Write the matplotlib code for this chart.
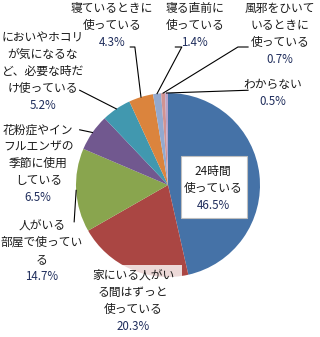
import numpy as np
import matplotlib
matplotlib.use("Agg")
import matplotlib.pyplot as plt
from matplotlib.patches import Rectangle

plt.rcParams['font.family'] = ['Noto Sans CJK JP', 'DejaVu Sans']

# データ
labels = [
    ["24時間", "使っている"],
    ["家にいる人がい", "る間はずっと", "使っている"],
    ["人がいる", "部屋で使ってい", "る"],
    ["花粉症やイン", "フルエンザの", "季節に使用", "している"],
    ["においやホコリ", "が気になるな", "ど、必要な時だ", "け使っている"],
    ["寝ているときに", "使っている"],
    ["寝る直前に", "使っている"],
    ["風邪をひいて", "いるときに", "使っている"],
    ["わからない"],
]
values = [46.5, 20.3, 14.7, 6.5, 5.2, 4.3, 1.4, 0.7, 0.5]
colors = ['#4572A7', '#AA4643', '#89A54E', '#71588F', '#4198AF',
          '#DB843D', '#93A9CF', '#D19392', '#B9A3C9']

# ラベル配置 (中心x, 1行目y) データ座標
lab_pos = [(0.49, 0.15), (-0.38, -0.98), (-1.37, -0.44), (-1.41, 0.60),
           (-1.36, 1.60), (-0.61, 1.92), (0.29, 1.92), (1.22, 1.92),
           (1.14, 1.09)]
# 引き出し線の始点 (None = 線なし)
lead_start = [None, None, (-1.02, -0.40), (-0.96, 0.60), (-0.96, 1.03),
              [(-0.41, 1.50), (-0.36, 1.50)], [(0.08, 1.50), (0.15, 1.50)],
              [(0.87, 1.50), (0.76, 1.50)], [(0.87, 1.03)]]

fig = plt.figure(figsize=(3.2, 3.37), dpi=100)
ax = fig.add_axes([(168 - 92) / 320, 1 - (185 + 92) / 337, 184 / 320, 184 / 337])

wedges, _ = ax.pie(values, colors=colors, startangle=90, counterclock=False,
                   radius=1.0, wedgeprops=dict(linewidth=0))
for w in wedges:
    w.set_zorder(1)
ax.set_xlim(-1, 1)
ax.set_ylim(-1, 1)
ax.axis('off')

total = sum(values)
cum = np.cumsum([0] + values)
dy = 0.185
pct_color = '#1F2D5C'

# 枠
ax.add_patch(Rectangle((0.141, -0.359), 0.718, 0.674, facecolor='white',
                       edgecolor='#BFBFBF', lw=0.8, zorder=3))
ax.add_patch(Rectangle((-0.87, -1.6), 1.02, 0.73, facecolor='white',
                       edgecolor='none', alpha=0.8, zorder=3, clip_on=False))

for i, (lines, v) in enumerate(zip(labels, values)):
    x0, y0 = lab_pos[i]
    for k, s in enumerate(lines):
        ax.text(x0, y0 - k * dy, s, ha='center', va='center', fontsize=8.5,
                color='#1a1a1a', zorder=5, clip_on=False)
    ax.text(x0, y0 - len(lines) * dy, f"{v}%", ha='center', va='center',
            fontsize=8.3, color=pct_color, zorder=5, clip_on=False)

    st = lead_start[i]
    if st is None:
        continue
    mid = (cum[i] + cum[i + 1]) / 2 / total * 2 * np.pi
    ex, ey = np.sin(mid), np.cos(mid)
    if isinstance(st, list):
        pts = st + [(ex, ey)]
    else:
        pts = [st, (ex, ey)]
    xs, ys = zip(*pts)
    ax.plot(xs, ys, color='black', lw=0.8, zorder=4, clip_on=False)

fig.savefig("out.png", dpi=100)
